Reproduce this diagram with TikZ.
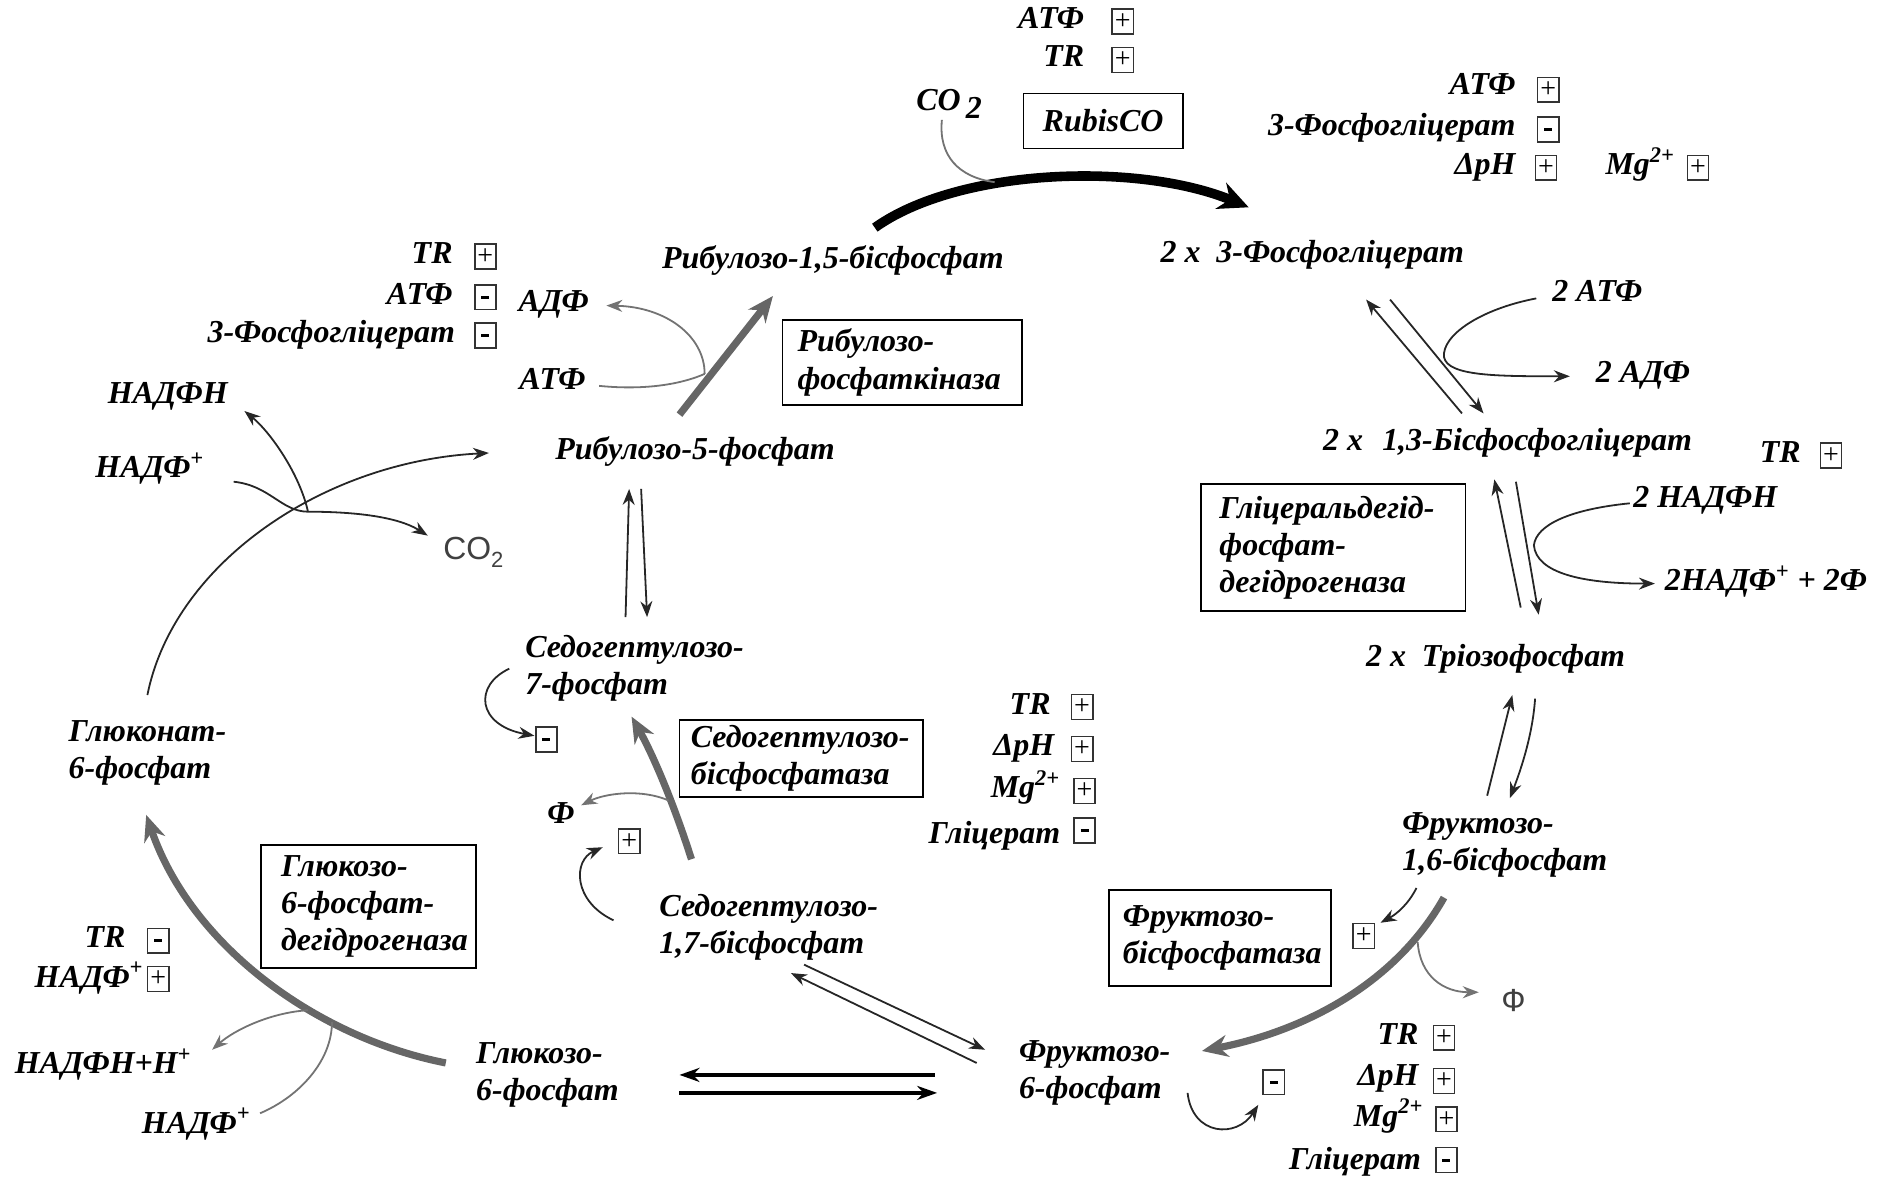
\documentclass[tikz,border=0pt]{standalone}
\usepackage{fontspec}
\setmainfont{Liberation Serif}
\setsansfont{Liberation Sans}
\usetikzlibrary{arrows.meta}
\newcommand\lblfont{\fontsize{16}{18.6}\selectfont\bfseries\itshape}
\newcommand\sgnfont{\fontsize{14}{14}\selectfont}
\newcommand\mns{\rule{4pt}{1.5pt}}
\begin{document}
\begin{tikzpicture}[x=0.6pt,y=-0.6pt,
  lbl/.style={inner sep=0pt,font=\lblfont,text height=11pt,text depth=4pt},
  mlbl/.style={inner sep=0pt,font=\lblfont,align=left},
  enz/.style={draw,line width=0.9pt,inner sep=0pt},
  sgn/.style={draw=black!80,line width=0.8pt,minimum width=10.6pt,minimum height=12.4pt,inner sep=0pt,font=\sgnfont},
  sanslbl/.style={inner sep=0pt,font=\sffamily\fontsize{16}{18}\selectfont,text=black!75},
  arr/.style={-{Stealth[length=8pt,width=6pt]}},
  thinln/.style={line width=0.9pt,draw=black!85},
  grayln/.style={line width=0.9pt,draw=black!55},
  bigg/.style={line width=3.6pt,draw=black!60,-{Stealth[length=13pt,width=11pt]}},
  bigk/.style={line width=4.8pt,draw=black,-{Stealth[length=15pt,width=14pt]}},
  dbl/.style={line width=1.8pt,draw=black,-{Stealth[length=10pt,width=7pt]}},
]
\useasboundingbox (0,0) rectangle (1568,988);

% ---------- metabolites ----------
\node[lbl] (rubp) at (695,218) {Рибулозо-1,5-бісфосфат};
\node[lbl] (pga) at (1095,213) {2 x\enspace 3-Фосфогліцерат};
\node[lbl] (bpg) at (1258,370) {2 x\hspace{0.6em}1,3-Бісфосфогліцерат};
\node[lbl] (triose) at (1248,550) {2 x\enspace Тріозофосфат};
\node[mlbl,anchor=west] (fbp) at (1170,705) {Фруктозо-\\1,6-бісфосфат};
\node[mlbl,anchor=west] (f6p) at (850,895) {Фруктозо-\\6-фосфат};
\node[mlbl,anchor=west] (g6p) at (397,897) {Глюкозо-\\6-фосфат};
\node[mlbl,anchor=west] (s17bp) at (550,774) {Седогептулозо-\\1,7-бісфосфат};
\node[mlbl,anchor=west] (s7p) at (438,558) {Седогептулозо-\\7-фосфат};
\node[lbl] (ru5p) at (580,378) {Рибулозо-5-фосфат};
\node[mlbl,anchor=west] (gnt) at (57,628) {Глюконат-\\6-фосфат};

% ---------- enzymes ----------
\node[enz,minimum width=79.8pt,minimum height=27.6pt,font=\lblfont] (rubisco) at (920.5,101) {RubisCO};
\node[enz,minimum width=120pt,minimum height=42.6pt] (prk) at (753,302.5) {};
\node[mlbl,anchor=west] (prkt) at ([xshift=7.8pt]prk.west) {Рибулозо-\\фосфаткіназа};
\node[enz,minimum width=132.6pt,minimum height=63.6pt] (gapdh) at (1112.5,457) {};
\node[mlbl,anchor=west] (gapdht) at ([xshift=9.6pt]gapdh.west) {Гліцеральдегід-\\фосфат-\\дегідрогеназа};
\node[enz,minimum width=121.8pt,minimum height=38.4pt] (sbp) at (668.5,633) {};
\node[mlbl,anchor=west] (sbpt) at ([xshift=6pt]sbp.west) {Седогептулозо-\\бісфосфатаза};
\node[enz,minimum width=107.4pt,minimum height=61.8pt] (g6pdh) at (307.5,756.5) {};
\node[mlbl,anchor=west] (g6pdht) at ([xshift=10.2pt]g6pdh.west) {Глюкозо-\\6-фосфат-\\дегідрогеназа};
\node[enz,minimum width=111pt,minimum height=48pt] (fbpase) at (1018,783) {};
\node[mlbl,anchor=west] (fbpaset) at ([xshift=7.2pt]fbpase.west) {Фруктозо-\\бісфосфатаза};

% ---------- effectors: RubisCO ----------
\node[lbl,anchor=east] (atpA) at (905,18) {АТФ};
\node[sgn] (atpAs) at (937,18) {+};
\node[lbl,anchor=east] (trA) at (905,50) {TR};
\node[sgn] (trAs) at (937,50) {+};
\node[lbl] (co2A) at (792,86) {CO\,\raisebox{-0.6ex}{2}};
\node[lbl,anchor=east] (atpB) at (1265,73) {АТФ};
\node[sgn] (atpBs) at (1292,75) {+};
\node[lbl,anchor=east] (pgaB) at (1265,107) {3-Фосфогліцерат};
\node[sgn] (pgaBs) at (1292,108) {\mns};
\node[lbl,anchor=east] (phB) at (1265,140) {ΔpH};
\node[sgn] (phBs) at (1290,140) {+};
\node[lbl,anchor=east] (mgB) at (1398,140) {Mg\textsuperscript{2+}};
\node[sgn] (mgBs) at (1417,140) {+};

% ---------- effectors: kinase ----------
\node[lbl,anchor=east] (trC) at (378,214) {TR};
\node[sgn] (trCs) at (405,214) {+};
\node[lbl,anchor=east] (atpC) at (378,248) {АТФ};
\node[sgn] (atpCs) at (405,248) {\mns};
\node[lbl,anchor=east] (pgaC) at (380,280) {3-Фосфогліцерат};
\node[sgn] (pgaCs) at (405,280) {\mns};
\node[lbl] (adpC) at (462,254) {АДФ};
\node[lbl] (atpD) at (461,319) {АТФ};

% ---------- oxidative branch ----------
\node[lbl] (nadphE) at (140,331) {НАДФН};
\node[lbl] (nadpE) at (125,393) {НАДФ\textsuperscript{+}};
\node[sanslbl] (co2E) at (395,461) {CO\raisebox{-0.5ex}{\fontsize{11}{11}\selectfont 2}};
\node[lbl,anchor=east] (trF) at (105,785) {TR};
\node[sgn] (trFs) at (132,785) {\mns};
\node[lbl,anchor=east] (nadpF) at (120,818) {НАДФ\textsuperscript{+}};
\node[sgn] (nadpFs) at (132,817) {+};
\node[lbl,anchor=west] (nadphF) at (12,890) {НАДФН+Н\textsuperscript{+}};
\node[lbl,anchor=west] (nadpG) at (118,940) {НАДФ\textsuperscript{+}};

% ---------- phosphoglycerate reduction ----------
\node[lbl] (atpH) at (1333,246) {2 АТФ};
\node[lbl] (adpH) at (1371,313) {2 АДФ};
\node[lbl,anchor=east] (trI) at (1503,380) {TR};
\node[sgn] (trIs) at (1528,380) {+};
\node[lbl] (nadphI) at (1423,418) {2 НАДФН};
\node[lbl,anchor=west] (nadpI) at (1389,487) {2НАДФ\textsuperscript{+} + 2Ф};

% ---------- sedoheptulose bisphosphatase ----------
\node[sgn] (s7ps) at (456,617) {\mns};
\node[lbl] (piJ) at (468,681) {Ф};
\node[sgn] (sbps) at (525,702) {+};
\node[lbl,anchor=east] (trJ) at (877,590) {TR};
\node[sgn] (trJs) at (903,590) {+};
\node[lbl,anchor=east] (phJ) at (880,625) {ΔpH};
\node[sgn] (phJs) at (903,625) {+};
\node[lbl,anchor=east] (mgJ) at (885,660) {Mg\textsuperscript{2+}};
\node[sgn] (mgJs) at (905,660) {+};
\node[lbl,anchor=east] (glyJ) at (885,698) {Гліцерат};
\node[sgn] (glyJs) at (905,693) {\mns};

% ---------- fructose bisphosphatase ----------
\node[sgn] (fbps) at (1138,781) {+};
\node[sanslbl] (piK) at (1263,835) {Ф};
\node[lbl,anchor=east] (trK) at (1184,866) {TR};
\node[sgn] (trKs) at (1205,866) {+};
\node[lbl,anchor=east] (phK) at (1184,900) {ΔpH};
\node[sgn] (phKs) at (1205,902) {+};
\node[lbl,anchor=east] (mgK) at (1188,934) {Mg\textsuperscript{2+}};
\node[sgn] (mgKs) at (1207,934) {+};
\node[lbl,anchor=east] (glyK) at (1186,970) {Гліцерат};
\node[sgn] (glyKs) at (1207,968) {\mns};
\node[sgn] (f6ps) at (1063,903) {\mns};

% ---------- connector end points ----------
\coordinate (rubpOut) at (730,190);
\coordinate (pgaIn) at (1042,173);
\coordinate (co2Join) at (830,152);
\coordinate (ru5pOut) at (567,346);
\coordinate (rubpIn) at (645,247);
\coordinate (prkJoin) at (588,312);
\coordinate (ru5pUpA) at (522,515);
\coordinate (ru5pUpB) at (525,408);
\coordinate (ru5pDnA) at (535,408);
\coordinate (ru5pDnB) at (540,515);
\coordinate (s17Out) at (577,717);
\coordinate (s7In) at (527,598);
\coordinate (sbpJoin) at (558,668);
\coordinate (s17A) at (660,812);
\coordinate (s17B) at (671,805);
\coordinate (f6pA) at (815,887);
\coordinate (f6pB) at (822,876);
\coordinate (g6pR) at (567,897);
\coordinate (g6pR2) at (567,912);
\coordinate (f6pL) at (780,897);
\coordinate (f6pL2) at (782,912);
\coordinate (g6pOut) at (372,887);
\coordinate (gntIn) at (122,680);
\coordinate (g6pdhJoin) at (257,843);
\coordinate (g6pdhIn) at (277,853);
\coordinate (gntOut) at (123,580);
\coordinate (ru5pIn) at (408,378);
\coordinate (oxJoin) at (257,427);
\coordinate (pgaDnA) at (1220,345);
\coordinate (pgaDnB) at (1140,250);
\coordinate (pgaUpA) at (1160,250);
\coordinate (pgaUpB) at (1238,345);
\coordinate (atpJoin) at (1205,298);
\coordinate (bpgUpA) at (1269,507);
\coordinate (bpgUpB) at (1247,400);
\coordinate (bpgDnA) at (1265,402);
\coordinate (bpgDnB) at (1284,513);
\coordinate (nadpJoin) at (1280,455);
\coordinate (trUpA) at (1241,664);
\coordinate (trUpB) at (1262,580);
\coordinate (trDnA) at (1281,583);
\coordinate (trDnB) at (1260,666);
\coordinate (fbpOut) at (1205,749);
\coordinate (f6pIn) at (1003,877);

% ---------- Calvin cycle ----------
\draw[bigk] (rubpOut) .. controls (800,140) and (950,135) .. (pgaIn);
\draw[grayln] (786,100) .. controls (783,130) and (800,148) .. (co2Join);

\draw[thinln,arr] (pgaDnA) -- (pgaDnB);
\draw[thinln,arr] (pgaUpA) -- (pgaUpB);
\draw[thinln,arr] (1282,249) .. controls (1235,258) and (1203,280) .. (atpJoin)
   .. controls (1208,314) and (1250,314) .. (1310,314);

\draw[thinln,arr] (bpgUpA) -- (bpgUpB);
\draw[thinln,arr] (bpgDnA) -- (bpgDnB);
\draw[thinln,arr] (1360,420) .. controls (1310,425) and (1282,438) .. (nadpJoin)
   .. controls (1282,478) and (1320,487) .. (1381,487);

\draw[thinln,arr] (trUpA) -- (trUpB);
\draw[thinln,arr] (trDnA) .. controls (1279,612) and (1270,640) .. (trDnB);

\draw[bigg] (fbpOut) .. controls (1165,820) and (1090,860) .. (f6pIn);
\draw[thinln,arr] (1182,741) .. controls (1175,755) and (1165,763) .. (1152,770);
\draw[grayln,arr] (1183,786) .. controls (1185,815) and (1205,828) .. (1234,828);
\draw[thinln,arr] (991,912) .. controls (995,948) and (1032,950) .. (1050,922);

\draw[dbl] (f6pL) -- (g6pR);
\draw[dbl] (g6pR2) -- (f6pL2);

\draw[thinln,arr] (f6pA) -- (s17A);
\draw[thinln,arr] (s17B) -- (f6pB);

\draw[bigg] (s17Out) .. controls (562,670) and (545,630) .. (s7In);
\draw[grayln,arr] (sbpJoin) .. controls (535,658) and (505,662) .. (485,672);
\draw[thinln,arr] (512,768) .. controls (478,752) and (478,718) .. (503,707);
\draw[thinln,arr] (425,558) .. controls (395,572) and (398,605) .. (446,614);

\draw[thinln,arr] (ru5pUpA) -- (ru5pUpB);
\draw[thinln,arr] (ru5pDnA) -- (ru5pDnB);

\draw[bigg] (ru5pOut) -- (rubpIn);
\draw[grayln] (500,322) .. controls (540,326) and (570,320) .. (prkJoin);
\draw[grayln,arr] (prkJoin) .. controls (588,280) and (555,256) .. (506,255);

% ---------- oxidative pentose phosphate branch ----------
\draw[bigg] (g6pOut) .. controls (265,866) and (160,790) .. (gntIn);
\draw[grayln,arr] (g6pdhJoin) .. controls (225,845) and (195,860) .. (177,876);
\draw[grayln] (217,929) .. controls (250,915) and (277,885) .. (g6pdhIn);

\draw[thinln,arr] (gntOut) .. controls (145,470) and (270,385) .. (ru5pIn);
\draw[thinln,arr] (195,402) .. controls (225,405) and (235,427) .. (oxJoin)
   .. controls (290,427) and (330,430) .. (357,447);
\draw[thinln,arr] (oxJoin) .. controls (250,395) and (225,360) .. (204,343);
\end{tikzpicture}
\end{document}
